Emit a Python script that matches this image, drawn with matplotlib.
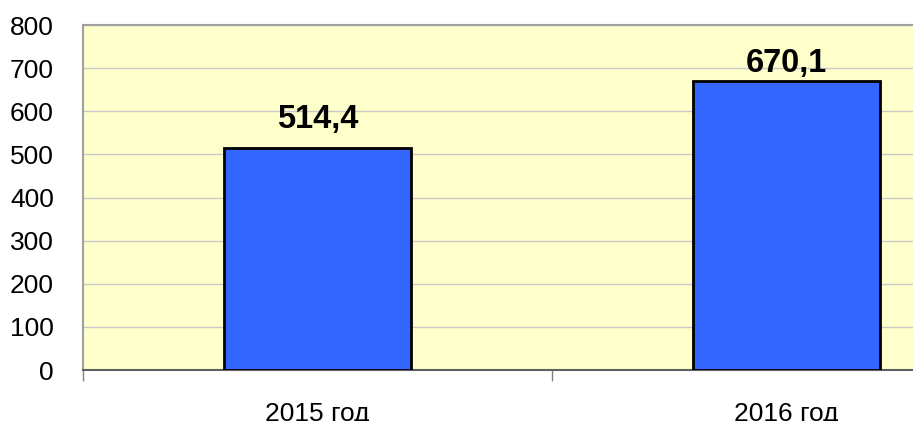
import matplotlib
matplotlib.use("Agg")
import matplotlib.pyplot as plt
import numpy as np

categories = ["2015 год", "2016 год"]
values = [514.4, 670.1]
value_labels = ["514,4", "670,1"]
y_ticks = [0, 100, 200, 300, 400, 500, 600, 700, 800]

plt.rcParams['font.family'] = ['Liberation Sans', 'DejaVu Sans']

fig = plt.figure(figsize=(9.13, 4.21), dpi=100)
W, H = 913, 421
left, right, top, bottom = 83, 1021, 25, 370
ax = fig.add_axes([left / W, 1 - bottom / H, (right - left) / W, (bottom - top) / H])
ax.set_facecolor("#FFFFCC")

x = np.arange(len(categories))
ax.bar(x, values, width=0.4, color="#3366FF", edgecolor="black", linewidth=2, zorder=3)

label_offsets = [20, 9]  # pixels above bar top
for xi, v, lab, off in zip(x, values, value_labels, label_offsets):
    ax.annotate(lab, (xi, v), xytext=(0, off * 0.72), textcoords="offset points",
                ha="center", va="baseline", fontsize=23.5, fontweight="bold", zorder=4)

ax.set_xlim(-0.5, len(categories) - 0.5)
ax.set_ylim(0, 800)
ax.set_yticks(y_ticks)
ax.set_yticklabels([str(t) for t in y_ticks], fontsize=19)
ax.tick_params(axis="y", length=0, pad=21)
ax.yaxis.grid(True, color="#C8C8C8", linewidth=1, zorder=0)
ax.set_axisbelow(True)

ax.set_xticks(x)
ax.set_xticklabels(categories, fontsize=19)
ax.set_xticks(np.arange(len(categories) + 1) - 0.5, minor=True)
ax.tick_params(axis="x", which="major", length=0, pad=23)
ax.tick_params(axis="x", which="minor", length=8, color="#808080", width=1)

for s in ["left", "top", "right"]:
    ax.spines[s].set_color("#A0A0A0")
    ax.spines[s].set_linewidth(1.5)
ax.spines["bottom"].set_color("#606060")
ax.spines["bottom"].set_linewidth(1.5)

fig.savefig("out.png", dpi=100)
